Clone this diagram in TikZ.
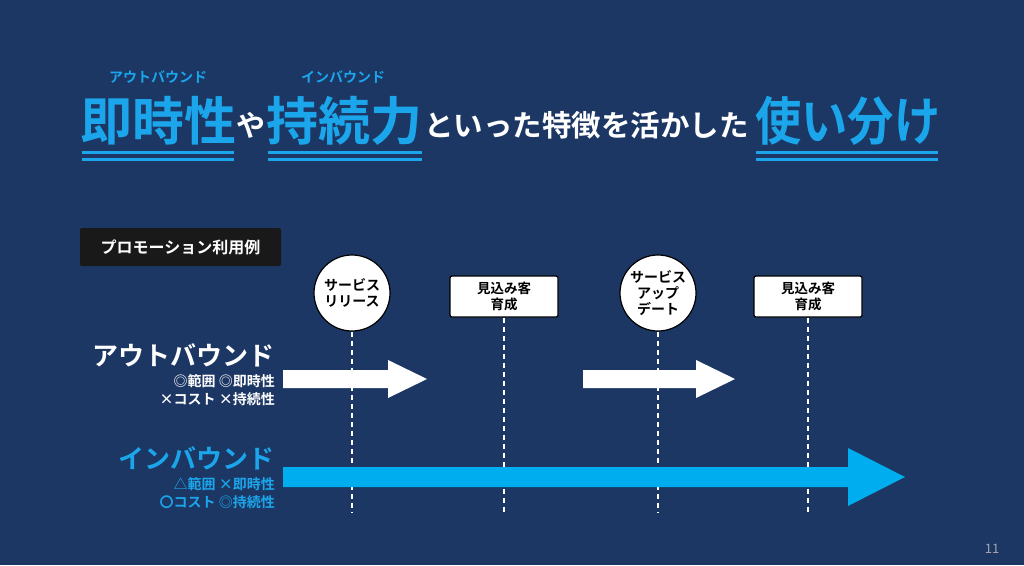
\documentclass[tikz,border=0pt]{standalone}
\usepackage{fontspec}
\newfontfamily\jpb{Noto Sans CJK JP Bold}
\newfontfamily\jpr{Noto Sans CJK JP}
\definecolor{bg}{HTML}{1C3764}
\definecolor{acc}{HTML}{1BA6EC}
\definecolor{arr}{HTML}{00AEEF}
\tikzset{
 t/.style={inner sep=0pt,anchor=base west,font=\jpb},
 ul/.style={acc,line width=3pt},
 circ/.style={circle,draw=black,line width=1.2pt,fill=white,minimum size=76pt,inner sep=0pt,font=\jpb\fontsize{14}{16}\selectfont,align=center},
 rbox/.style={draw=black,line width=1.2pt,fill=white,minimum width=108pt,minimum height=41pt,inner sep=0pt,rounded corners=2pt,font=\jpb\fontsize{13.5}{16}\selectfont,align=center},
 dl/.style={white,line width=1.5pt,dash pattern=on 5pt off 4pt},
}
\begin{document}
\begin{tikzpicture}[x=1pt,y=-1pt]
\fill[bg] (0,0) rectangle (1024,565);
\useasboundingbox (0,0) rectangle (1024,565);
% title
\node[t,acc,font=\jpb\fontsize{52}{54}\selectfont] (a1) at (80,140) {即時性};
\node[t,white,font=\jpb\fontsize{29}{30}\selectfont] (a2) at (236,136) {や};
\node[t,acc,font=\jpb\fontsize{52}{54}\selectfont] (a3) at (266,140) {持続力};
\node[t,white,font=\jpb\fontsize{29.5}{30}\selectfont] (a4) at (424,136) {といった特徴を活かした};
\node[t,acc,font=\jpb\fontsize{52}{54}\selectfont,xscale=0.89,transform shape] (a5) at (755,140) {使い分け};
\node[acc,inner sep=0pt,font=\jpb\fontsize{14}{16}\selectfont] (r1) at (158,77) {アウトバウンド};
\node[acc,inner sep=0pt,font=\jpb\fontsize{14}{16}\selectfont] (r2) at (343,77) {インバウンド};
\foreach \a/\b in {82/234,268/422,756/938}{
 \draw[ul] (\a,152) -- (\b,152); \draw[ul] (\a,159) -- (\b,159);}
% label
\node[fill=black!90,rounded corners=2pt,minimum width=201pt,minimum height=38pt,inner sep=0pt,text=white,font=\jpb\fontsize{16}{18}\selectfont] (lab) at (180.5,247) {プロモーション利用例};
% milestones
\node[circ] (c1) at (352,293) {サービス\\リリース};
\node[rbox] (b1) at (504,296.5) {見込み客\\育成};
\node[circ] (c2) at (658,293) {サービス\\アップ\\デート};
\node[rbox] (b2) at (808,296.5) {見込み客\\育成};
\coordinate (e1) at (352,512); \coordinate (e2) at (504,512);
\coordinate (e3) at (658,512); \coordinate (e4) at (808,512);
\draw[dl] (c1.south) -- (e1); \draw[dl] (b1.south) -- (e2);
\draw[dl] (c2.south) -- (e3); \draw[dl] (b2.south) -- (e4);
% arrows
\fill[white] (283,370) -- (388,370) -- (388,360) -- (427,379) -- (388,398) -- (388,388) -- (283,388) -- cycle;
\fill[white] (583,370) -- (696,370) -- (696,360) -- (735,379) -- (696,398) -- (696,388) -- (583,388) -- cycle;
\fill[arr] (283,467) -- (848,467) -- (848,448) -- (905,477) -- (848,506) -- (848,487) -- (283,487) -- cycle;
% labels
\node[inner sep=0pt,anchor=east,white,font=\jpb\fontsize{26}{28}\selectfont] (ob) at (275,355) {アウトバウンド};
\node[inner sep=0pt,anchor=north east,white,align=right,font=\jpb\fontsize{14}{18}\selectfont] (obs) at (275,374) {◎範囲 ◎即時性\\×コスト ×持続性};
\node[inner sep=0pt,anchor=east,acc,font=\jpb\fontsize{26}{28}\selectfont] (ib) at (275,458) {インバウンド};
\node[inner sep=0pt,anchor=north east,acc,align=right,font=\jpb\fontsize{14}{18}\selectfont] (ibs) at (275,477) {△範囲 ×即時性\\〇コスト ◎持続性};
\node[text=gray!70,font=\jpr\fontsize{13}{15}\selectfont] (pg) at (992,549) {11};
\end{tikzpicture}
\end{document}
